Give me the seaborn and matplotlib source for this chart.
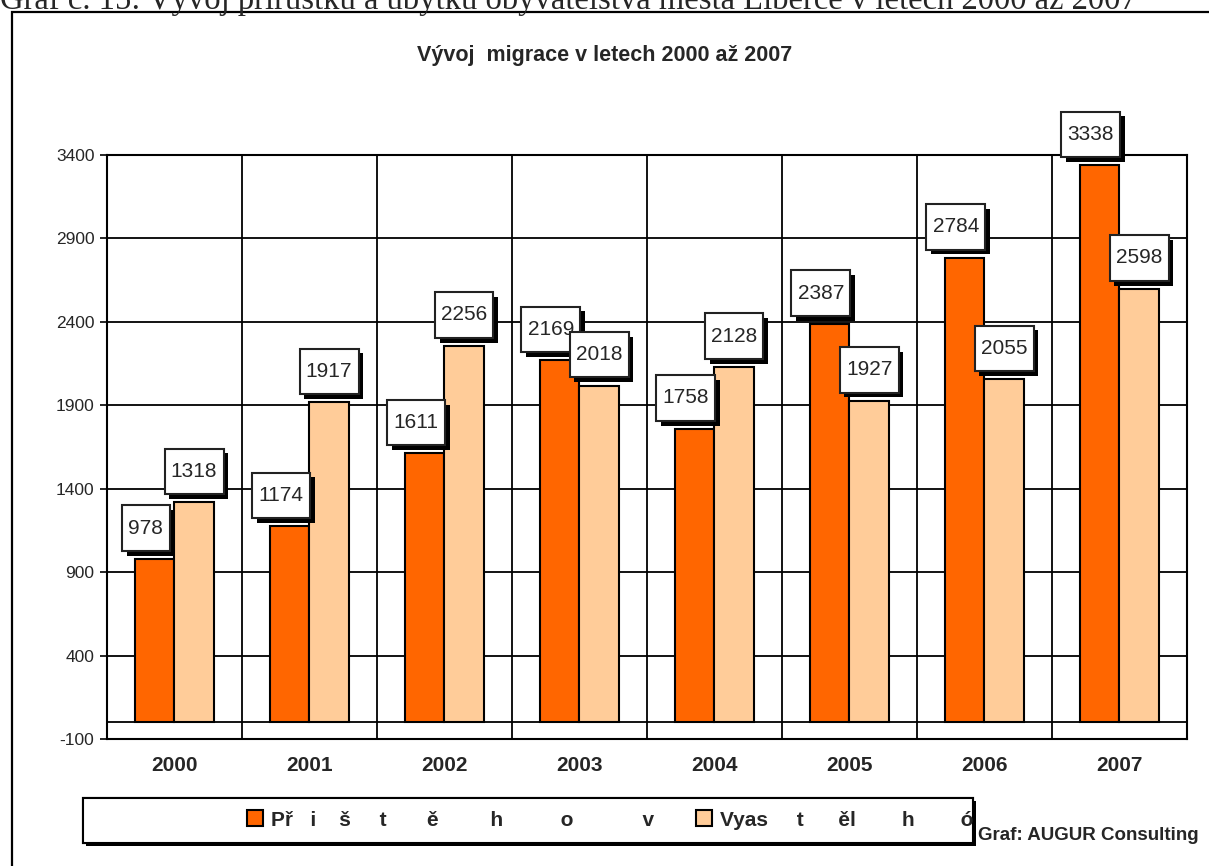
import numpy as np
import pandas as pd
import matplotlib
matplotlib.use("Agg")
import matplotlib.pyplot as plt
import matplotlib.patheffects as pe
from matplotlib.patches import Rectangle, Patch
from matplotlib.path import Path
import seaborn as sns

# data
years = ["2000", "2001", "2002", "2003", "2004", "2005", "2006", "2007"]
prist = [978, 1174, 1611, 2169, 1758, 2387, 2784, 3338]
vyst = [1318, 1917, 2256, 2018, 2128, 1927, 2055, 2598]
series = ["Přistěhovalí", "Vystěhovalí"]
colors = ["#FF6600", "#FFCC99"]
yticks = [-100, 400, 900, 1400, 1900, 2400, 2900, 3400]
# legend texts as they appear (broken spacing) in the reference
legend_labels = ["Př   i    š     t       ě         h          o            v",
                 "Vyas     t      ěl        h        ó"]

df = pd.DataFrame({
    "rok": years * 2,
    "pocet": prist + vyst,
    "serie": [series[0]] * len(years) + [series[1]] * len(years),
})

sns.set_style("white")
plt.rcParams['font.family'] = ['Liberation Sans', 'DejaVu Sans']

fig = plt.figure(figsize=(12.09, 8.66), dpi=100)
ax = fig.add_axes([0.0885, 0.1467, 0.8933, 0.6743])

sns.barplot(data=df, x="rok", y="pocet", hue="serie", palette=colors, saturation=1,
            width=0.58, edgecolor="black", linewidth=1.5, ax=ax, legend=False)

ax.set_ylim(-100, 3400)
ax.set_xlim(-0.5, len(years) - 0.5)
ax.set_yticks(yticks)
ax.set_yticklabels([str(v) for v in yticks], fontsize=12.5)
ax.set_xticks(range(len(years)))
ax.set_xticklabels(years, fontsize=15, fontweight='bold')
ax.set_xticks(np.arange(-0.5, len(years), 1), minor=True)
ax.tick_params(axis='x', which='both', length=0, pad=12)
ax.tick_params(axis='y', length=5, width=1.2, color='black', left=True, pad=4)
ax.set_xlabel("")
ax.set_ylabel("")
ax.grid(True, axis='y', which='major', color='black', lw=1.3)
ax.grid(True, axis='x', which='minor', color='black', lw=1.3)
ax.axhline(0, color='black', lw=1.3, zorder=0.5)
ax.set_axisbelow(True)
for s in ax.spines.values():
    s.set_color('black')
    s.set_linewidth(1.5)


def tall_box(x0, y0, width, height, mutation_scale):
    # square box, narrow side padding, tall top/bottom padding
    px = 0.3 * mutation_scale
    py = 0.64 * mutation_scale
    verts = [(x0 - px, y0 - py), (x0 + width + px, y0 - py),
             (x0 + width + px, y0 + height + py), (x0 - px, y0 + height + py),
             (x0 - px, y0 - py)]
    return Path(verts, [Path.MOVETO, Path.LINETO, Path.LINETO, Path.LINETO, Path.CLOSEPOLY])


# data labels in boxes with a shadow
shadow = [pe.withSimplePatchShadow(offset=(3.5, -3.5), shadow_rgbFace='black', alpha=1.0)]
for i, cont in enumerate(ax.containers):
    dx = -9 if i == 0 else 0
    for bar in cont:
        h = bar.get_height()
        t = ax.annotate(f"{h:.0f}", (bar.get_x() + bar.get_width() / 2, h),
                        xytext=(dx, 31), textcoords='offset pixels',
                        ha='center', va='center', fontsize=15,
                        bbox=dict(boxstyle=tall_box, fc='white', ec='#222222', lw=1.5),
                        zorder=5)
        t.get_bbox_patch().set_path_effects(shadow)

fig.text(0.5, 1 - 55 / 866, "Vývoj  migrace v letech 2000 až 2007", ha='center', va='center',
         fontsize=15.5, fontweight='bold')

# caption above the frame (cut off in the reference)
fig.text(0.0, 1 - 9 / 866, "Graf č. 15: Vývoj přírůstku a úbytku obyvatelstva města Liberce v letech 2000 až 2007",
         ha='left', va='baseline', fontsize=23.5, family=['Liberation Serif', 'DejaVu Serif'])

# outer frame
fig.patches.append(Rectangle((12 / 1209, -0.05), 1.1, 1 - 12 / 866 + 0.05, transform=fig.transFigure,
                             fill=False, ec='black', lw=1.6, zorder=0))

# legend box
lb = Rectangle((83 / 1209, 1 - 843 / 866), 890 / 1209, 45 / 866, transform=fig.transFigure,
               fc='white', ec='black', lw=1.5, zorder=1)
lb.set_path_effects([pe.withSimplePatchShadow(offset=(2, -2), shadow_rgbFace='black', alpha=1.0), pe.Normal()])
fig.patches.append(lb)

handles = [Patch(fc=c, ec='black', lw=1.5) for c in colors]
fig.legend(handles, legend_labels, loc='center left', bbox_to_anchor=(237 / 1209, 1 - 820 / 866),
           ncol=2, frameon=False, borderpad=0, handlelength=0.77, handleheight=0.77, handletextpad=0.38,
           columnspacing=2.0, prop={'weight': 'bold', 'size': 15})

fig.text(1199 / 1209, 1 - 835 / 866, "Graf: AUGUR Consulting", ha='right', va='center',
         fontsize=13.5, fontweight='bold')

fig.savefig("out.png", dpi=100)
